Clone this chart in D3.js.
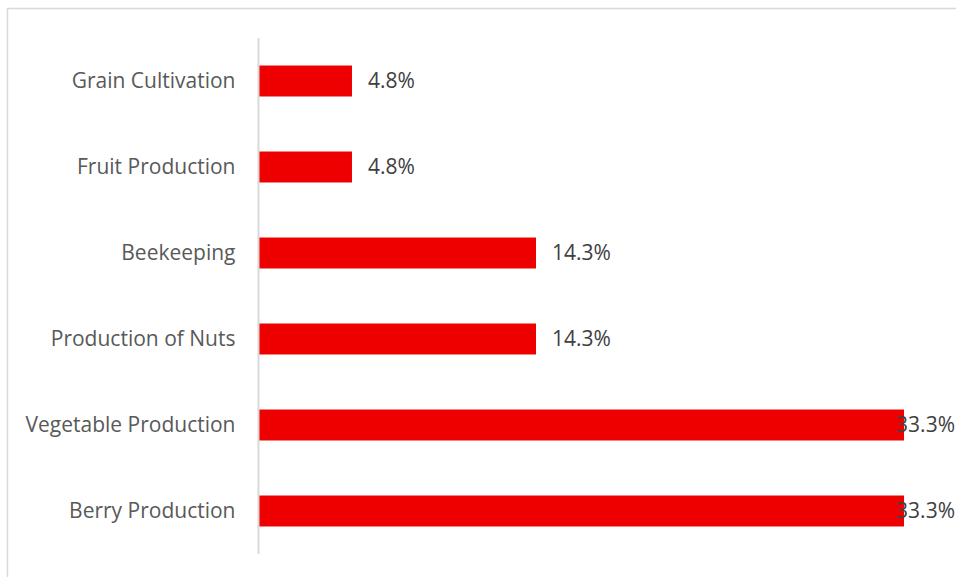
<!DOCTYPE html>
<html>
<head>
<meta charset="utf-8">
<script src="https://cdn.jsdelivr.net/npm/d3@7"></script>
<style>
  html, body { margin: 0; padding: 0; background: #fff; }
  svg { display: block; }
</style>
</head>
<body>
<svg id="chart" width="956" height="577"></svg>
<script>
// Share of farms by activity type
const categories = [
  "Grain Cultivation",
  "Fruit Production",
  "Beekeeping",
  "Production of Nuts",
  "Vegetable Production",
  "Berry Production"
];
const values = [4.8, 4.8, 14.3, 14.3, 33.3, 33.3];

const W = 956, H = 577;
const svg = d3.select("#chart");
const font = "'Open Sans', Lato, sans-serif";

// outer chart frame
svg.append("rect")
  .attr("x", 7.5).attr("y", 8.5)
  .attr("width", 980).attr("height", 600)
  .attr("fill", "none")
  .attr("stroke", "#d9d9d9")
  .attr("stroke-width", 1.5);

const plotLeft = 259, plotTop = 38, plotBottom = 554;

const x = d3.scaleLinear()
  .domain([0, 35])
  .range([plotLeft, plotLeft + 35 * 19.37]);

const y = d3.scaleBand()
  .domain(categories)
  .range([plotTop, plotBottom])
  .paddingInner(0.64)
  .paddingOuter(0.32);

const data = categories.map((c, i) => ({ cat: c, val: values[i] }));

// bars
svg.append("g").selectAll("rect")
  .data(data)
  .join("rect")
  .attr("x", x(0))
  .attr("y", d => y(d.cat))
  .attr("width", d => x(d.val) - x(0))
  .attr("height", y.bandwidth())
  .attr("fill", "#ee0000");

// category axis
const yAxis = d3.axisLeft(y).tickSize(0).tickPadding(23);
const ag = svg.append("g")
  .attr("transform", `translate(${plotLeft - 0.5},0)`)
  .call(yAxis);
ag.select(".domain")
  .attr("d", `M0,${plotTop}V${plotBottom}`)
  .attr("stroke", "#d9d9d9")
  .attr("stroke-width", 2);
ag.selectAll("text")
  .attr("font-family", font)
  .attr("font-size", 21)
  .attr("fill", "#595959");

// value labels, kept inside the chart's right edge
const labels = svg.append("g").selectAll("text")
  .data(data)
  .join("text")
  .attr("y", d => y(d.cat) + y.bandwidth() / 2)
  .attr("dy", "0.35em")
  .attr("font-family", font)
  .attr("font-size", 21)
  .attr("fill", "#404040")
  .text(d => d.val.toFixed(1) + "%");
labels.attr("x", function(d) {
  const w = this.getComputedTextLength();
  return Math.min(x(d.val) + 16, W - 1 - w);
});
</script>
</body>
</html>
